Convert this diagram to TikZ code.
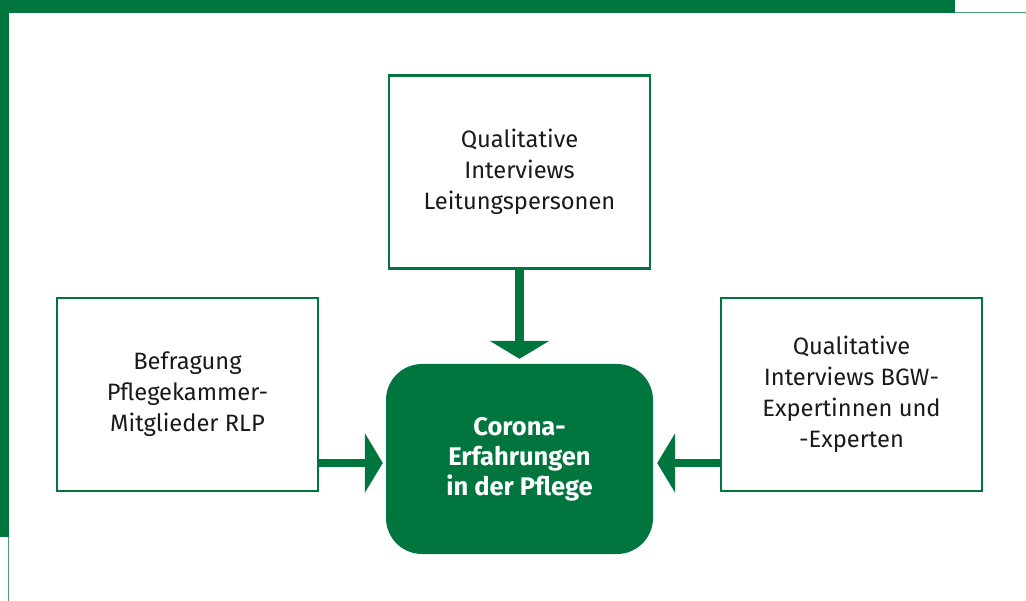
\documentclass[tikz,border=0pt]{standalone}
\usepackage{fontspec}
\setmainfont{Fira Sans}
\usepackage{xcolor}
\usepackage{tikz}
\usetikzlibrary{arrows.meta}
\definecolor{pgreen}{RGB}{0,118,62}
\definecolor{ptext}{RGB}{26,26,26}

\begin{document}
\begin{tikzpicture}[x=1pt,y=-1pt,
    source/.style={rectangle,draw=pgreen,line width=2.4pt,fill=white,minimum width=261pt,
      minimum height=193pt,align=center,text=ptext,font=\fontsize{23.7}{31}\selectfont},
    result/.style={rectangle,rounded corners=36pt,fill=pgreen,minimum width=267pt,
      minimum height=190pt,align=center,text=white,font=\fontsize{25.5}{30}\selectfont\bfseries},
    feed/.style={pgreen,line width=8.5pt,-{Triangle[width=59pt,length=18pt]}}]
        \useasboundingbox (0,0) rectangle (1026,601);
        % Frame
        \fill[pgreen] (0,0) rectangle (955,13);
        \draw[pgreen!70,line width=1.3pt] (955,12.3) -- (1026,12.3);
        \fill[pgreen] (0,0) rectangle (9,537);
        \draw[pgreen!70,line width=1.3pt] (8.4,537) -- (8.4,601);
        % Boxes
        \node[source] (lead) at (519.5,172) {Qualitative\\Interviews\\Leitungspersonen};
        \node[source] (survey) at (187.5,394.5) {Befragung\\Pflegekammer-\\Mitglieder RLP};
        \node[source] (expert) at (851.5,394.5) {Qualitative\\Interviews BGW-\\Expertinnen und\\-Experten};
        \node[result] (corona) at (519.5,459) {Corona-\\Erfahrungen\\in der Pflege};
        % Arrows
        \draw[feed,shorten >=5pt] (lead.south) -- (corona.north);
        \draw[feed,shorten >=3pt] (survey.east |- 0,463) -- (corona.west |- 0,463);
        \draw[feed,shorten >=4pt] (expert.west |- 0,463) -- (corona.east |- 0,463);
      \end{tikzpicture}
\end{document}
